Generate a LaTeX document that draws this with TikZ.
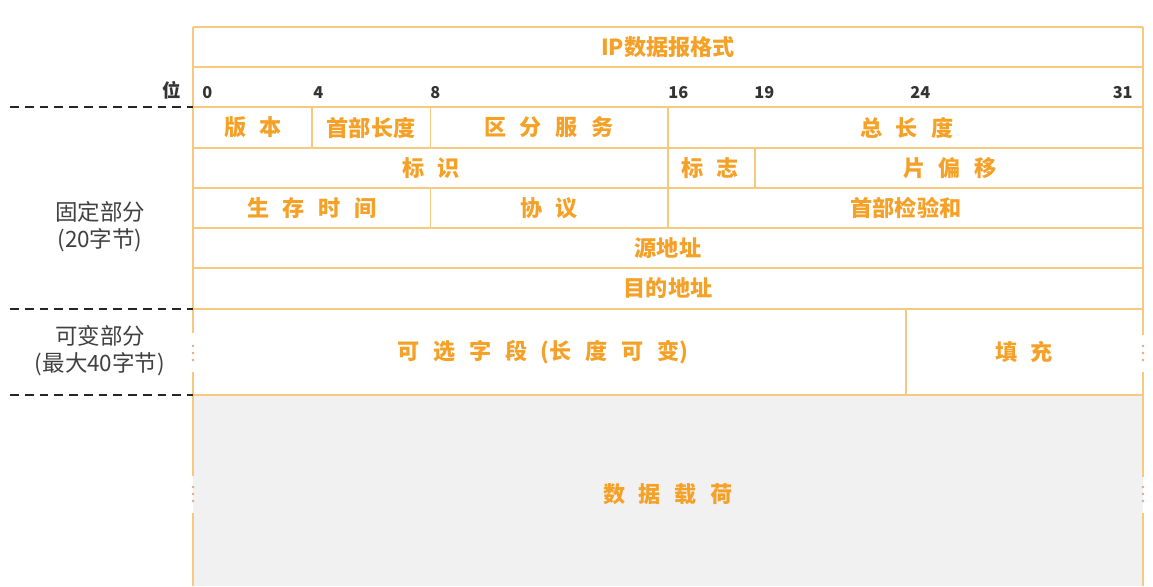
\documentclass[tikz,border=0pt]{standalone}
\usepackage{fontspec}
\setmainfont{Noto Sans CJK SC}
\usetikzlibrary{positioning}
\definecolor{framec}{HTML}{F6C97F}
\definecolor{fieldc}{HTML}{F5A128}
\definecolor{payloadc}{HTML}{F1F1F1}
\definecolor{dotc}{HTML}{E9A57E}
\newcommand{\fgap}{\hspace{0.62em}}

\begin{document}
\begin{tikzpicture}[x=0.02cm, y=-0.02cm,
  frame/.style={draw=framec, line width=1.1pt},
  fld/.style={font=\bfseries\fontsize{12.6}{15}\selectfont, text=fieldc, inner sep=0pt},
  bitno/.style={font=\bfseries\fontsize{9.3}{11}\selectfont, text=black!80, inner sep=0pt},
  side/.style={font=\fontsize{12.8}{15.3}\selectfont, text=black!75, align=center},
  cut/.style={draw=black!85, line width=1.4pt, dash pattern=on 5pt off 3.4pt}]
  \useasboundingbox (0,0) rectangle (1153,586);
  % payload area
  \fill[payloadc] (193,395) rectangle (1143,586);
  % rows
  \draw[frame] (193,27) -- (1143,27);
  \draw[frame] (193,67) -- (1143,67);
  \draw[frame] (193,107) -- (1143,107);
  \draw[frame] (193,148) -- (1143,148);
  \draw[frame] (193,188) -- (1143,188);
  \draw[frame] (193,228) -- (1143,228);
  \draw[frame] (193,268) -- (1143,268);
  \draw[frame] (193,309) -- (1143,309);
  \draw[frame] (193,395) -- (1143,395);
  % inner columns
  \draw[frame] (311.75,107) -- (311.75,148);
  \draw[frame] (430.5,107) -- (430.5,148);
  \draw[frame] (430.5,188) -- (430.5,228);
  \draw[frame] (668,107) -- (668,228);
  \draw[frame] (755,148) -- (755,188);
  \draw[frame] (906,309) -- (906,395);
  % outer edges, broken where the length varies
  \draw[frame] (193,27) -- (193,333);
  \draw[frame] (193,372) -- (193,476);
  \draw[frame] (193,513) -- (193,586);
  \draw[frame] (1143,27) -- (1143,335);
  \draw[frame] (1143,372) -- (1143,477);
  \draw[frame] (1143,513) -- (1143,586);
  \fill[dotc] (193,346) circle (1.3) (193,353) circle (1.3) (193,360) circle (1.3);
  \fill[dotc] (193,487) circle (1.3) (193,494) circle (1.3) (193,501) circle (1.3);
  \fill[dotc] (1143,346) circle (1.3) (1143,353) circle (1.3) (1143,360) circle (1.3);
  \fill[dotc] (1143,487) circle (1.3) (1143,494) circle (1.3) (1143,501) circle (1.3);

  \node[fld] (title) at (668,47) {IP数据报格式};

  % bit positions
  \node[bitno, font=\bfseries\fontsize{10.5}{12}\selectfont] (bitlbl) at (172,90) {位};
  \node[bitno, anchor=base west] (b0) at (202,98) {0};
  \node[bitno, anchor=base west] (b4) at (313,98) {4};
  \node[bitno, anchor=base west] (b8) at (430,98) {8};
  \node[bitno, anchor=base west] (b16) at (668,98) {16};
  \node[bitno, anchor=base west] (b19) at (754,98) {19};
  \node[bitno, anchor=base west] (b24) at (910,98) {24};
  \node[bitno, anchor=base east] (b31) at (1133,98) {31};

  % header fields
  \node[fld] (ver) at (253,127.5) {版\fgap 本};
  \node[fld] (hlen) at (371,127.5) {首部长度};
  \node[fld] (dsf) at (549,127.5) {区\fgap 分\fgap 服\fgap 务};
  \node[fld] (totlen) at (907,127.5) {总\fgap 长\fgap 度};
  \node[fld] (ident) at (431,168) {标\fgap 识};
  \node[fld] (flags) at (710,168) {标\fgap 志};
  \node[fld] (fragoff) at (950,168) {片\fgap 偏\fgap 移};
  \node[fld] (ttl) at (312,208) {生\fgap 存\fgap 时\fgap 间};
  \node[fld] (proto) at (549,208) {协\fgap 议};
  \node[fld] (hcsum) at (906,208) {首部检验和};
  \node[fld] (srcaddr) at (668,248) {源地址};
  \node[fld] (dstaddr) at (668,288.5) {目的地址};
  \node[fld] (opts) at (543,352) {可\fgap 选\fgap 字\fgap 段\fgap (长\fgap 度\fgap 可\fgap 变)};
  \node[fld] (pad) at (1024,352) {填\fgap 充};
  \node[fld] (payload) at (668,494) {数\fgap 据\fgap 载\fgap 荷};

  % left side parts
  \coordinate (hdrtop) at (193,107);
  \coordinate (hdrend) at (193,309);
  \coordinate (optend) at (193,395);
  \draw[cut] (10,107) -- (hdrtop);
  \draw[cut] (10,309) -- (hdrend);
  \draw[cut] (10,395) -- (optend);
  \node[side] (fixedlbl) at (100,226.5) {固定部分\\(20字节)};
  \node[side] (varlbl) at (100,351) {可变部分\\(最大40字节)};
\end{tikzpicture}
\end{document}
